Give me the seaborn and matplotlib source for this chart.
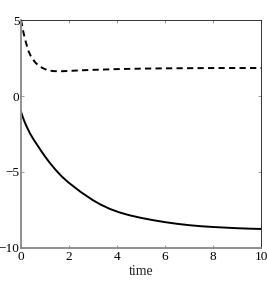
import numpy as np
import pandas as pd
import matplotlib
matplotlib.use("Agg")
import matplotlib.pyplot as plt
import seaborn as sns

# values
t_solid = [0, 0.08, 0.17, 0.27, 0.375, 0.48, 0.58, 0.7, 0.85, 1.0, 1.2, 1.42, 1.7, 2.0, 2.5,
           3.0, 3.3, 3.7, 4.1, 4.5, 5.0, 5.5, 6.0, 6.5, 7.0, 7.5, 8.0, 8.5, 9.0, 9.5, 10.0]
y_solid = [-1.03, -1.42, -1.78, -2.13, -2.46, -2.75, -3.0, -3.28, -3.64, -3.98, -4.4, -4.82, -5.3, -5.72, -6.33,
           -6.86, -7.13, -7.43, -7.66, -7.84, -8.02, -8.17, -8.3, -8.41, -8.5, -8.57, -8.62, -8.66, -8.7, -8.73, -8.75]

t_dash = [0, 0.05, 0.1, 0.15, 0.2, 0.3, 0.4, 0.5, 0.6, 0.7, 0.8, 0.9, 1.0, 1.1, 1.2, 1.35, 1.5, 1.7,
          2.0, 2.5, 3.0, 4.0, 5.0, 6.0, 7.0, 8.0, 9.0, 10.0]
y_dash = [5.0, 4.6, 4.2, 3.85, 3.55, 3.0, 2.65, 2.4, 2.2, 2.05, 1.93, 1.84, 1.77, 1.71, 1.67, 1.64, 1.63, 1.63,
          1.65, 1.69, 1.72, 1.77, 1.8, 1.82, 1.83, 1.84, 1.84, 1.84]

sns.set_style("white")
plt.rcParams['font.family'] = ['Liberation Serif', 'DejaVu Serif']

solid = pd.DataFrame({"time": t_solid, "value": y_solid})
dash = pd.DataFrame({"time": t_dash, "value": y_dash})

fig = plt.figure(figsize=(2.67, 2.86), dpi=100)
ax = fig.add_axes([0.0787, 0.133, 0.8988, 0.797])

sns.lineplot(data=solid, x="time", y="value", ax=ax, color="black", linewidth=1.4)
sns.lineplot(data=dash, x="time", y="value", ax=ax, color="black", linewidth=1.4,
             linestyle=(0, (3.2, 2.2)))

ax.set_xlim(0, 10)
ax.set_ylim(-10, 5)
ax.set_xticks([0, 2, 4, 6, 8, 10])
ax.set_yticks([-10, -5, 0, 5])
ax.set_xticklabels(["0", "2", "4", "6", "8", "10"])
ax.set_yticklabels(["\u221210", "\u22125", "0", "5"])
ax.set_xlabel("time", fontsize=10, labelpad=1)
ax.set_ylabel("")

ax.tick_params(direction="in", length=2.5, width=0.6, colors="#888888",
               labelcolor="black", labelsize=9.5, pad=1,
               top=True, right=True, bottom=True, left=True)
ax.tick_params(axis="x", pad=2.5)

for side in ["top", "right"]:
    ax.spines[side].set_color("#333333")
    ax.spines[side].set_linewidth(0.7)
for side in ["left", "bottom"]:
    ax.spines[side].set_color("#888888")
    ax.spines[side].set_linewidth(1.3)

fig.savefig("out.png", dpi=100)
